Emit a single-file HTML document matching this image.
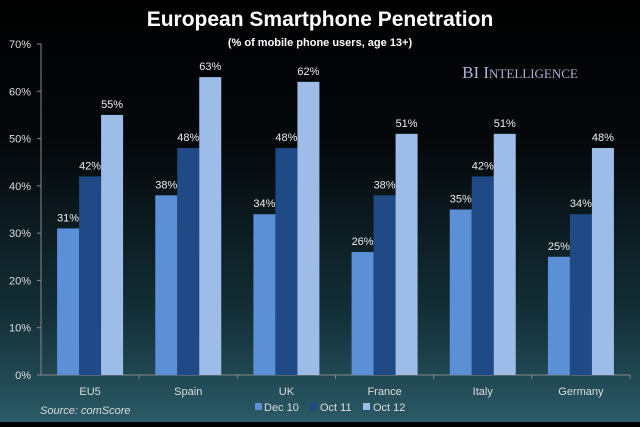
<!DOCTYPE html>
<html><head><meta charset="utf-8"><style>
html,body{margin:0;padding:0;}
body{width:640px;height:422px;overflow:hidden;background:linear-gradient(180deg,#000 0%,#05090c 35%,#143038 75%,#2b5a66 100%);font-family:"Liberation Sans",sans-serif;}
</style></head><body>
<svg id="c" width="640" height="422" xmlns="http://www.w3.org/2000/svg">
<text x="320" y="26" text-anchor="middle" fill="#fff" font-size="21" font-weight="bold">European Smartphone Penetration</text>
<text x="320" y="46" text-anchor="middle" fill="#fff" font-size="11" font-weight="bold">(% of mobile phone users, age 13+)</text>
<text x="520" y="78" text-anchor="middle" fill="#a9b4d6" font-size="17" font-family="Liberation Serif,serif">BI I<tspan font-size="13">NTELLIGENCE</tspan></text>
<g id="axes"></g><g id="bars"></g>
<text x="40" y="414" fill="#ddd" font-size="11" font-style="italic">Source: comScore</text>
<g>
<rect x="255" y="403" width="7" height="7" fill="#5b8fd6"/>
<text x="264" y="411" fill="#ddd" font-size="11">Dec 10</text>
<rect x="310" y="403" width="7" height="7" fill="#1f4a85"/>
<text x="320" y="411" fill="#ddd" font-size="11">Oct 11</text>
<rect x="363" y="403" width="7" height="7" fill="#9dbde8"/>
<text x="373" y="411" fill="#ddd" font-size="11">Oct 12</text>
</g>
</svg>
<script>
const categories=["EU5","Spain","UK","France","Italy","Germany"];
const dec10=[31,38,34,26,35,25];
const oct11=[42,48,48,38,42,34];
const oct12=[55,63,62,51,51,48];
const yTicks=[0,10,20,30,40,50,60,70];
const NS="http://www.w3.org/2000/svg";
const x0=41,x1=630,yb=375,yt=44,ymax=70;
const y=v=>yb-(v/ymax)*(yb-yt);
const cw=(x1-x0)/categories.length;
const axes=document.getElementById('axes'),bars=document.getElementById('bars');
function mk(t,a,p){const e=document.createElementNS(NS,t);for(const k in a)e.setAttribute(k,a[k]);p.appendChild(e);return e;}
let l=mk('line',{x1:x0,y1:yt,x2:x0,y2:yb,stroke:'#888','stroke-width':1},axes);


l=mk('line',{x1:x0,y1:yb,x2:x1,y2:yb,stroke:'#888','stroke-width':1},axes);


yTicks.forEach(v=>{
 const t=mk('line',{x1:x0-4,y1:y(v),x2:x0,y2:y(v),stroke:'#888'},axes);
 
 
 const tx=mk('text',{x:x0-10,y:y(v)+4,'text-anchor':'end',fill:'#ddd','font-size':11},axes);
 tx.textContent=v+'%';
 
 
});
const series=[[dec10,'#5b8fd6','dec10'],[oct11,'#1f4a85','oct11'],[oct12,'#9dbde8','oct12']];
const bw=22;
categories.forEach((c,i)=>{
 const cx=x0+i*cw;
 const tk=mk('line',{x1:cx+cw,y1:yb,x2:cx+cw,y2:yb+4,stroke:'#888'},axes);
 
 
 const lb=mk('text',{x:cx+cw/2,y:yb+20,'text-anchor':'middle',fill:'#ddd','font-size':11},axes);
 lb.textContent=c;
 
 
 series.forEach((s,j)=>{
  const v=s[0][i],bx=cx+cw/2-1.5*bw+j*bw;
  const r=mk('rect',{x:bx,y:y(v),width:bw,height:yb-y(v),fill:s[1]},bars);
  
  
  const t=mk('text',{x:bx+bw/2,y:y(v)-7,'text-anchor':'middle',fill:'#eee','font-size':11},bars);
  t.textContent=v+'%';
  
  
 });
});
</script>
</body></html>
